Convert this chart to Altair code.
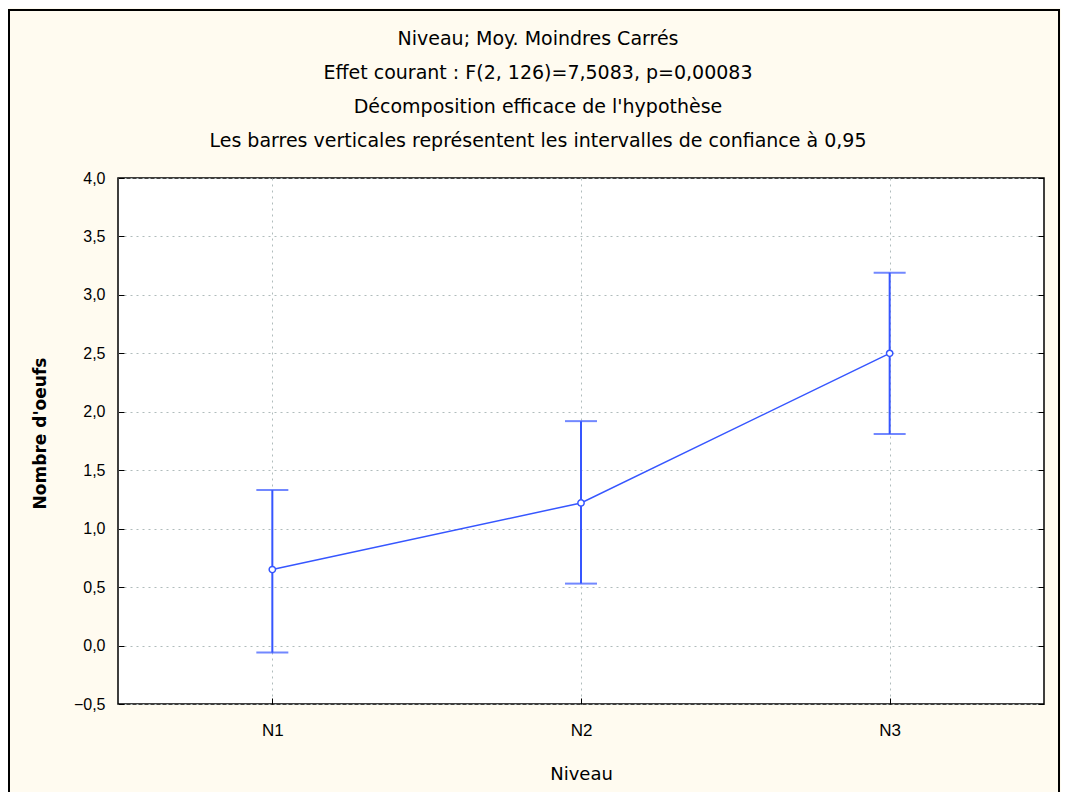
import altair as alt
import pandas as pd

levels = ["N1", "N2", "N3"]
means = [0.65, 1.22, 2.50]
lower = [-0.06, 0.53, 1.81]
upper = [1.33, 1.92, 3.19]
y_ticks = [-0.5, 0.0, 0.5, 1.0, 1.5, 2.0, 2.5, 3.0, 3.5, 4.0]

title_lines = [
    "Niveau; Moy. Moindres Carrés",
    "Effet courant : F(2, 126)=7,5083, p=0,00083",
    "Décomposition efficace de l'hypothèse",
    "Les barres verticales représentent les intervalles de confiance à 0,95",
]

df = pd.DataFrame({"Niveau": levels, "mean": means, "lo": lower, "hi": upper})

BLUE = "#3656ff"
FONT = "Liberation Sans"
TFONT = "DejaVu Sans"
W, H = 926, 526

ydom = alt.Scale(domain=[-0.5, 4.0], nice=False, zero=False)
xscale = alt.Scale(type="point", padding=0.5)

x_enc = alt.X(
    "Niveau:O",
    scale=xscale,
    sort=levels,
    title="Niveau",
    axis=alt.Axis(
        labelAngle=0, offset=-6, tickSize=6, domain=False, tickColor="black",
        grid=True, gridColor="#b0bcbc", gridDash=[2, 4], gridWidth=1,
        labelPadding=18, titlePadding=27, labelFont=FONT, titleFont=TFONT,
        labelFontSize=17, titleFontSize=18, titleFontWeight="normal",
        labelColor="black", titleColor="black",
    ),
)

left_axis = alt.Axis(
    values=y_ticks, offset=-6, tickSize=6, domain=False, tickColor="black",
    grid=True, gridColor="#b0bcbc", gridDash=[2, 4], gridWidth=1,
    labelExpr="replace(format(datum.value, '.1f'), '.', ',')",
    labelPadding=13, labelFont=FONT, titleFont=TFONT,
    labelFontSize=16, titleFontSize=17, titleFontWeight="bold",
    labelColor="black", titleColor="black",
    titleX=-84, titleY=255, titleAlign="center", titleBaseline="middle", titleAngle=270,
)
right_axis = alt.Axis(
    orient="right", values=y_ticks, offset=-6, tickSize=6, domain=False,
    tickColor="black", labels=False, grid=False, title=None,
)

base = alt.Chart(df)

line = base.mark_line(color=BLUE, strokeWidth=1.5).encode(
    x=x_enc, y=alt.Y("mean:Q", scale=ydom, axis=left_axis, title="Nombre d'oeufs")
)
bars = base.mark_rule(color=BLUE, strokeWidth=2).encode(
    x=alt.X("Niveau:O", scale=xscale, sort=levels),
    y=alt.Y("lo:Q", scale=ydom),
    y2="hi:Q",
)
caps_hi = base.mark_tick(color=BLUE, size=32, thickness=2).encode(
    x=alt.X("Niveau:O", scale=xscale, sort=levels), y=alt.Y("hi:Q", scale=ydom)
)
caps_lo = base.mark_tick(color=BLUE, size=32, thickness=2).encode(
    x=alt.X("Niveau:O", scale=xscale, sort=levels), y=alt.Y("lo:Q", scale=ydom)
)
pts = base.mark_point(
    shape="circle", filled=True, fill="white", stroke=BLUE, strokeWidth=1.5,
    size=40, opacity=1,
).encode(x=alt.X("Niveau:O", scale=xscale, sort=levels), y=alt.Y("mean:Q", scale=ydom))

left_layer = alt.layer(line, bars, caps_hi, caps_lo, pts)

right_layer = base.mark_point(opacity=0).encode(
    x=alt.X("Niveau:O", scale=xscale, sort=levels),
    y=alt.Y("mean:Q", scale=ydom, axis=right_axis),
)

frame = alt.Chart(alt.Data(values=[{}])).mark_rect(
    fillOpacity=0, stroke="black", strokeWidth=2
).encode(
    x=alt.value(-109), x2=alt.value(941), y=alt.value(-168), y2=alt.value(640)
)

chart = (
    alt.layer(left_layer, right_layer, frame)
    .resolve_axis(y="independent")
    .properties(
        width=W,
        height=H,
        autosize=alt.AutoSizeParams(type="none"),
        padding={"left": 110, "top": 170, "right": 17, "bottom": 88},
        background="#fffbf0",
        title=alt.TitleParams(
            text=title_lines, font=TFONT, fontSize=19, fontWeight="normal",
            lineHeight=34, anchor="middle", frame="group", dx=-43, dy=168,
            offset=26, color="black",
        ),
    )
    .configure_view(fill="white", stroke="black", strokeWidth=1.5)
)

chart.save("out.html", embed_options={"renderer": "svg", "actions": False})
